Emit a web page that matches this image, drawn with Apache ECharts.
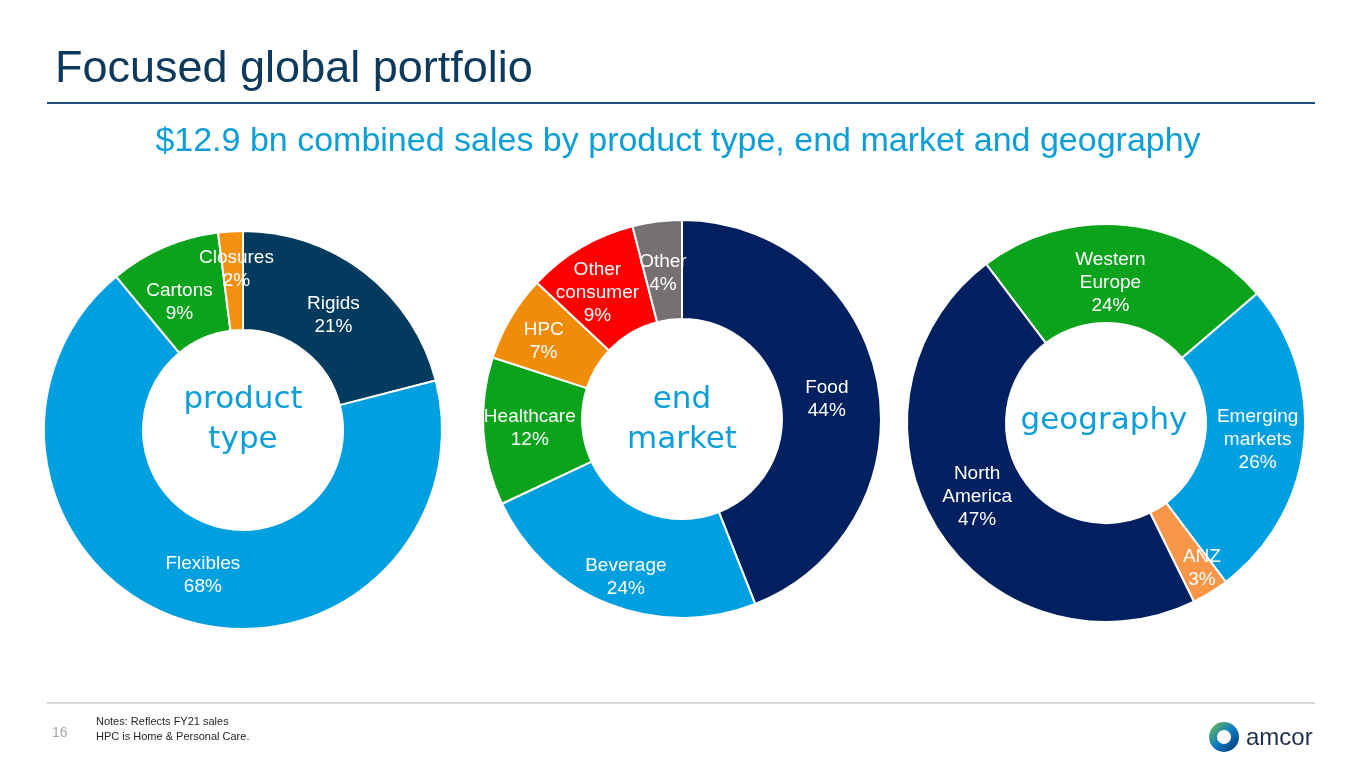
<!DOCTYPE html>
<html>
<head>
<meta charset="utf-8">
<script src="https://cdn.jsdelivr.net/npm/echarts@6/dist/echarts.min.js"></script>
<style>
html,body{margin:0;padding:0;background:#fff;}
#chart{width:1365px;height:768px;}
</style>
</head>
<body>
<div id="chart"></div>
<script>
// ---- Data ----
const productNames = ['Rigids', 'Flexibles', 'Cartons', 'Closures'];
const productValues = [21, 68, 9, 2];

const marketNames = ['Food', 'Beverage', 'Healthcare', 'HPC', 'Other\nconsumer', 'Other'];
const marketValues = [44, 24, 12, 7, 9, 4];

const geoNames = ['Western\nEurope', 'Emerging\nmarkets', 'ANZ', 'North\nAmerica'];
const geoValues = [24, 26, 3, 47];

const titleText = 'Focused global portfolio';
const subtitleText = '$12.9 bn combined sales by product type, end market and geography';
const notesLines = ['Notes: Reflects FY21 sales', 'HPC is Home & Personal Care.'];
const pageNumber = '16';

// ---- Styles ----
const productColors = ['#023B5D', '#009FDF', '#0AA31B', '#F29111'];
const marketColors = ['#002060', '#009FDF', '#0AA31B', '#F08C0A', '#FF0000', '#767171'];
const geoColors = ['#0AA31B', '#009FDF', '#F79646', '#002060'];
// small label nudges (px) to mimic the slide's hand-placed labels
const labelNudge = {
  'Rigids': [-3, 6], 'Flexibles': [7, 0], 'Cartons': [-3, 12], 'Closures': [3, -9],
  'Food': [-5, 9], 'Beverage': [0, 16], 'HPC': [-7, 0], 'Other\nconsumer': [-7, 5], 'Other': [0, 6],
  'Western\nEurope': [-12, 11], 'ANZ': [16, 15], 'North\nAmerica': [1, -6]
};

function toData(names, values, colors) {
  return names.map((n, i) => {
    const d = { name: n, value: values[i], itemStyle: { color: colors[i] } };
    if (labelNudge[n]) d.label = { offset: labelNudge[n] };
    return d;
  });
}

const FONT = '"Liberation Sans", Arial, sans-serif';

function donut(data, center, startAngle) {
  return {
    type: 'pie',
    center: center,
    radius: [100, 199],
    startAngle: startAngle,
    clockwise: true,
    animation: false,
    silent: true,
    avoidLabelOverlap: false,
    minShowLabelAngle: 0,
    labelLayout: { hideOverlap: false },
    itemStyle: { borderColor: '#ffffff', borderWidth: 2 },
    label: {
      show: true,
      position: 'inside',
      formatter: '{b}\n{c}%',
      color: '#ffffff',
      fontFamily: FONT,
      fontSize: 19,
      lineHeight: 23,
      align: 'center'
    },
    labelLine: { show: false },
    emphasis: { disabled: true },
    data: data
  };
}

const chart = echarts.init(document.getElementById('chart'));
const centerStyle = {
  fill: '#0B9ED9',
  font: '31px "DejaVu Sans", sans-serif',
  textAlign: 'center',
  textVerticalAlign: 'middle',
  lineHeight: 40
};

chart.setOption({
  backgroundColor: '#ffffff',
  series: [
    donut(toData(productNames, productValues, productColors), [243, 430], 90),
    donut(toData(marketNames, marketValues, marketColors), [682, 419], 90),
    donut(toData(geoNames, geoValues, geoColors), [1106, 423], 127)
  ],
  graphic: [
    { type: 'text', x: 55, y: 70, style: { text: titleText, fill: '#0D3A5C', font: '45px ' + FONT, textVerticalAlign: 'middle' } },
    { type: 'rect', shape: { x: 47, y: 102, width: 1268, height: 2 }, style: { fill: '#1F4E79' } },
    { type: 'text', x: 678, y: 142, style: { text: subtitleText, fill: '#0B9ED9', font: '34px ' + FONT, textAlign: 'center', textVerticalAlign: 'middle' } },
    { type: 'text', x: 243, y: 420, style: Object.assign({}, centerStyle, { text: 'product\ntype' }) },
    { type: 'text', x: 682, y: 420, style: Object.assign({}, centerStyle, { text: 'end\nmarket' }) },
    { type: 'text', x: 1104, y: 421, style: Object.assign({}, centerStyle, { text: 'geography' }) },
    { type: 'rect', shape: { x: 47, y: 702, width: 1268, height: 2 }, style: { fill: '#D9D9D9' } },
    { type: 'text', x: 52, y: 733, style: { text: pageNumber, fill: '#A6A6A6', font: '14px ' + FONT, textVerticalAlign: 'middle' } },
    { type: 'text', x: 96, y: 722, style: { text: notesLines[0], fill: '#262626', font: '11px ' + FONT, textVerticalAlign: 'middle' } },
    { type: 'text', x: 96, y: 737, style: { text: notesLines[1], fill: '#262626', font: '11px ' + FONT, textVerticalAlign: 'middle' } },
    { type: 'ring', shape: { cx: 1224, cy: 737, r: 15, r0: 7 }, style: { fill: new echarts.graphic.LinearGradient(0, 0, 1, 1, [{ offset: 0, color: '#7CC242' }, { offset: 0.5, color: '#0A7DC2' }, { offset: 1, color: '#0B2F6B' }]) } },
    { type: 'text', x: 1246, y: 738, style: { text: 'amcor', fill: '#1E2D4F', font: '24px ' + FONT, textVerticalAlign: 'middle' } }
  ]
});
</script>
</body>
</html>
